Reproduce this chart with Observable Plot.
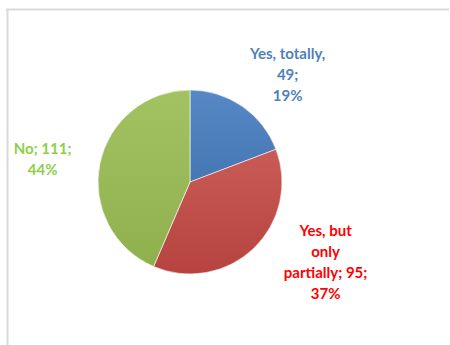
<!DOCTYPE html>
<html>
<head>
<meta charset="utf-8">
<script src="https://cdn.jsdelivr.net/npm/d3@7"></script>
<script src="https://cdn.jsdelivr.net/npm/@observablehq/plot@0.6"></script>
<style>
  html, body { margin: 0; padding: 0; background: #fff; }
  #chart { width: 450px; height: 345px; }
</style>
</head>
<body>
<div id="chart"></div>
<script>
// ---- data ----
const categories = ["Yes, totally", "Yes, but only partially", "No"];
const values = [49, 95, 111];
const percentLabels = ["19%", "37%", "44%"];
const labelTexts = ["Yes, totally,\n49;\n19%", "Yes, but\nonly\npartially; 95;\n37%", "No; 111;\n44%"];

// ---- styling / layout ----
const sliceColors = ["#4f81bd", "#c0504d", "#9bbb59"];
const sliceLight = ["#5688c6", "#c95b57", "#a3c363"];
const sliceDark = ["#4577b5", "#b6433f", "#90b04e"];
const textColors = ["#4f81bd", "#ff0000", "#8fcf4a"];
const center = {x: 190, y: 182};
const radius = 92;
// label placement: angle (deg, clockwise from north) and distance from center
const labelAngle = [41.7, 120, 279.6];
const labelDist = [146, 156, 150];

const pie = d3.pie().sort(null).value(d => d.value)(
  categories.map((c, i) => ({category: c, value: values[i], i}))
);

const labels = pie.map((p, i) => {
  const a = labelAngle[i] * Math.PI / 180;
  return {
    x: center.x + labelDist[i] * Math.sin(a),
    y: center.y - labelDist[i] * Math.cos(a),
    text: labelTexts[i],
    color: textColors[i]
  };
});

function pieMark(index, scales) {
  const svgNS = "http://www.w3.org/2000/svg";
  const g = document.createElementNS(svgNS, "g");
  const defs = document.createElementNS(svgNS, "defs");
  g.appendChild(defs);
  const cx = scales.x(center.x), cy = scales.y(center.y);
  const r = scales.x(center.x + radius) - cx;
  const arc = d3.arc().innerRadius(0).outerRadius(r);
  pie.forEach((p, i) => {
    const grad = document.createElementNS(svgNS, "linearGradient");
    grad.setAttribute("id", "grad" + i);
    grad.setAttribute("x1", "0"); grad.setAttribute("y1", "0");
    grad.setAttribute("x2", "0"); grad.setAttribute("y2", "1");
    [[0, sliceLight[i]], [1, sliceDark[i]]].forEach(([o, c]) => {
      const s = document.createElementNS(svgNS, "stop");
      s.setAttribute("offset", o);
      s.setAttribute("stop-color", c);
      grad.appendChild(s);
    });
    defs.appendChild(grad);
    const path = document.createElementNS(svgNS, "path");
    path.setAttribute("d", arc(p));
    path.setAttribute("transform", `translate(${cx},${cy})`);
    path.setAttribute("fill", `url(#grad${i})`);
    path.setAttribute("stroke", "#ffffff");
    path.setAttribute("stroke-width", "0.6");
    path.setAttribute("stroke-linejoin", "round");
    g.appendChild(path);
  });
  return g;
}

const chart = Plot.plot({
  width: 450,
  height: 345,
  margin: 0,
  x: {domain: [0, 450], range: [0, 450], axis: null},
  y: {domain: [0, 345], range: [0, 345], axis: null},
  style: {background: "#ffffff", fontFamily: "Lato, 'Open Sans', sans-serif"},
  marks: [
    Plot.ruleY([9], {x1: 6, x2: 449, stroke: "#d9d9d9", strokeWidth: 2}),
    Plot.ruleX([7], {y1: 9, y2: 345, stroke: "#d9d9d9", strokeWidth: 2}),
    pieMark,
    Plot.text(labels, {
      x: "x", y: "y", text: "text", fill: "color",
      fontSize: 15, fontWeight: "bold", lineHeight: 1.4,
      textAnchor: "middle", lineAnchor: "middle"
    })
  ]
});
document.getElementById("chart").appendChild(chart);
</script>
</body>
</html>
